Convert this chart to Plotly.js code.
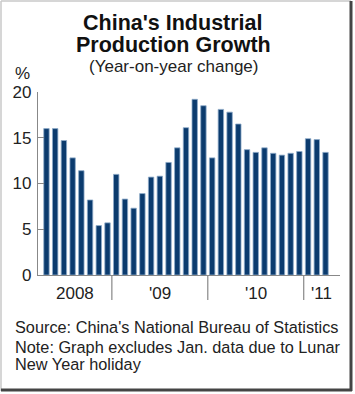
<!DOCTYPE html>
<html>
<head>
<meta charset="utf-8">
<script src="https://cdn.plot.ly/plotly-3.0.1.min.js"></script>
<style>
html,body{margin:0;padding:0;background:#fff;}
#chart{width:355px;height:394px;}
</style>
</head>
<body>
<div id="chart"></div>
<script>
// Months shown (Jan excluded each year), May 2008 – Apr 2011
var months = ["May 08","Jun 08","Jul 08","Aug 08","Sep 08","Oct 08","Nov 08","Dec 08",
  "Feb 09","Mar 09","Apr 09","May 09","Jun 09","Jul 09","Aug 09","Sep 09","Oct 09","Nov 09","Dec 09",
  "Feb 10","Mar 10","Apr 10","May 10","Jun 10","Jul 10","Aug 10","Sep 10","Oct 10","Nov 10","Dec 10",
  "Feb 11","Mar 11","Apr 11"];
var growth = [16.0,16.0,14.7,12.8,11.4,8.2,5.4,5.7,
  11.0,8.3,7.3,8.9,10.7,10.8,12.3,13.9,16.1,19.2,18.5,
  12.8,18.1,17.8,16.5,13.7,13.4,13.9,13.3,13.1,13.3,13.5,
  14.9,14.8,13.4];
var yearLabels = ["2008","'09","'10","'11"];
var yearCounts = [8, 11, 11, 3];
var yTicks = [0, 5, 10, 15, 20];

var xIdx = months.map(function(_, i){ return i; });

// year boundaries and label centres from counts
var bounds = [];
var acc = 0;
for (var k = 0; k < yearCounts.length - 1; k++) { acc += yearCounts[k]; bounds.push(acc - 0.5); }
var xMin = -0.97, xMax = 33.66;
var edges = [xMin].concat(bounds).concat([xMax]);

var shapes = bounds.map(function(b){
  return {type:'line', xref:'x', yref:'paper', x0:b, x1:b, y0:0, y1:-0.137,
          line:{color:'#888', width:1.2}};
});

var FONT = 'Liberation Sans, Arial, sans-serif';
var ann = yearLabels.map(function(t, i){
  return {text:t, xref:'x', yref:'paper', x:(edges[i]+edges[i+1])/2, y:-0.1,
          showarrow:false, font:{family:FONT, size:17, color:'#222'},
          xanchor:'center', yanchor:'middle'};
});

function txt(t, x, y, size, bold, anchor) {
  return {text: bold ? '<b>'+t+'</b>' : t, xref:'paper', yref:'paper', x:x, y:y,
    xanchor: anchor || 'center', yanchor:'middle', showarrow:false,
    font:{family:FONT, size:size, color: bold ? '#111' : '#222'}};
}
// paper coords: plot area from y=92 (top) to 275 (bottom), height 183; x from 38 to 340
function py(pix){ return (275 - pix) / 183; }
function px(pix){ return (pix - 38) / 302; }

ann.push(txt("China's Industrial", px(173), py(23), 21.5, true));
ann.push(txt("Production Growth", px(173), py(45), 21.5, true));
ann.push(txt("(Year-on-year change)", px(173), py(66), 17, false));
ann.push(txt("%", px(22), py(74), 17, false));
ann.push(txt("Source: China's National Bureau of Statistics", px(13), py(327), 16.3, false, 'left'));
ann.push(txt("Note: Graph excludes Jan. data due to Lunar", px(13), py(347), 16.3, false, 'left'));
ann.push(txt("New Year holiday", px(13), py(364), 16.3, false, 'left'));

// frame
shapes.push({type:'line', xref:'paper', yref:'paper', x0:px(1), x1:px(1), y0:py(1), y1:py(391), line:{color:'#c8c8c8', width:1.5}});
shapes.push({type:'line', xref:'paper', yref:'paper', x0:px(1), x1:px(351), y0:py(1), y1:py(1), line:{color:'#c8c8c8', width:1.5}});
shapes.push({type:'line', xref:'paper', yref:'paper', x0:px(351), x1:px(351), y0:py(1), y1:py(391), line:{color:'#444', width:3}});
shapes.push({type:'line', xref:'paper', yref:'paper', x0:px(1), x1:px(352), y0:py(390), y1:py(390), line:{color:'#444', width:3}});

var trace = {
  type:'bar', x:xIdx, y:growth, width:0.62,
  marker:{color:'#0b3b6e', line:{color:'#8eabc9', width:0.8}},
  hoverinfo:'skip'
};

var layout = {
  width:355, height:394,
  margin:{l:38, r:15, t:92, b:119},
  paper_bgcolor:'#fff', plot_bgcolor:'#fff',
  showlegend:false,
  bargap:0.3,
  xaxis:{range:[xMin, xMax], showgrid:false, zeroline:false, showticklabels:false, ticks:'',
         showline:true, linecolor:'#888', linewidth:1.2, fixedrange:true},
  yaxis:{range:[0,20], tickvals:yTicks, ticktext:yTicks.map(String), showgrid:false, zeroline:false,
         showline:true, linecolor:'#888', linewidth:1.2, ticks:'inside', ticklen:6, tickcolor:'#888',
         tickfont:{family:FONT, size:17, color:'#222'}, ticklabelstandoff:2, fixedrange:true},
  shapes:shapes,
  annotations:ann
};

Plotly.newPlot('chart', [trace], layout, {displayModeBar:false, staticPlot:true});
</script>
</body>
</html>
